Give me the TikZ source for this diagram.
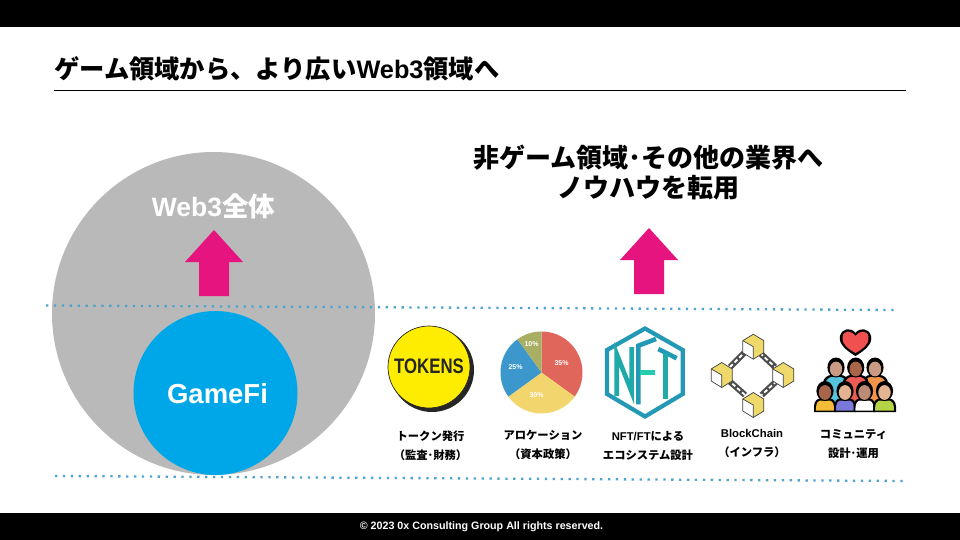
\documentclass[tikz,border=0pt]{standalone}
\usepackage{fontspec}
\setmainfont{Liberation Sans}
\newfontfamily\cjk{Noto Sans CJK JP}
\usetikzlibrary{shapes.geometric}
\definecolor{pinkarrow}{HTML}{E6147F}
\definecolor{gamefi}{HTML}{00A7E8}
\definecolor{bigc}{HTML}{B9B9B9}
\definecolor{dots}{HTML}{4FA3CF}
\definecolor{nftc}{HTML}{2399B5}
\definecolor{nftn}{HTML}{1FA9A8}
\definecolor{nftg}{HTML}{25CDB0}
\definecolor{cube}{HTML}{EFD96B}
\definecolor{piered}{HTML}{E0655A}
\definecolor{pieyel}{HTML}{F3D56E}
\definecolor{pieblu}{HTML}{3C98CC}
\definecolor{pieoli}{HTML}{A8AE62}
\definecolor{heartc}{HTML}{F0504F}
\tikzset{
  x=1pt,y=-1pt,
  capt/.style={font=\cjk\bfseries\fontsize{11.3}{19}\selectfont,align=center,text=black,inner sep=0pt},
  big/.style={font=\cjk\bfseries\fontsize{26}{30}\selectfont,align=center,inner sep=0pt},
  dotline/.style={dots,line width=2.3pt,line cap=butt,dash pattern=on 2.3pt off 5.6pt},
  uparrow/.style={fill=pinkarrow,draw=none},
  nftl/.style={line width=4.6pt,line cap=butt,line join=miter},
  chainout/.style={draw=black!70,line width=6pt},
  chainin/.style={draw=white,line width=1.8pt,dash pattern=on 4pt off 2.5pt},
  cubeedge/.style={draw=black!75,line width=.7pt,line join=round},
  pct/.style={text=white,font=\bfseries\fontsize{7}{8}\selectfont,inner sep=0pt}
}
\newcommand{\mkarrow}[2]{% x centre, tip y
  \fill[uparrow] (#1,#2) -- (#1+29,#2+32) -- (#1+15,#2+32) -- (#1+15,#2+66) -- (#1-15,#2+66) -- (#1-15,#2+32) -- (#1-29,#2+32) -- cycle;}
\newcommand{\mkcube}[2]{%
  \begin{scope}[shift={(#1,#2)}]
    \fill[white] (0,-12.5) -- (10.5,-6) -- (10.5,6) -- (0,12.5) -- (-10.5,6) -- (-10.5,-6) -- cycle;
    \fill[cube] (-10.5,-6) -- (0,-12.5) -- (10.5,-6) -- (10.5,6) -- (0,12.5) -- (0,0) -- cycle;
    \draw[cubeedge] (0,-12.5) -- (10.5,-6) -- (10.5,6) -- (0,12.5) -- (-10.5,6) -- (-10.5,-6) -- cycle;
    \draw[cubeedge] (-10.5,-6) -- (0,0) -- (0,12.5);
  \end{scope}}
% x, head y, half width of body, body bottom, shirt colour, skin colour
\newcommand{\mkperson}[6]{%
  \begin{scope}[shift={(#1,#2)}]
    \fill[black] (-#3,#4) -- (-#3,15) .. controls (-#3,10) and (-8,7) .. (-5,7) -- (5,7) .. controls (8,7) and (#3,10) .. (#3,15) -- (#3,#4) -- cycle;
    \fill[#5,shift={(0,1.5)},xscale=.82] (-#3,#4-3) -- (-#3,15) .. controls (-#3,10) and (-8,7.5) .. (-5,7.5) -- (5,7.5) .. controls (8,7.5) and (#3,10) .. (#3,15) -- (#3,#4-3) -- cycle;
    \fill[black] (0,-.5) ellipse (8.6 and 10);
    \fill[#6] (0,1) ellipse (6.2 and 7.4);
  \end{scope}}
\definecolor{sa}{HTML}{CB9A84}
\definecolor{sb}{HTML}{A8654A}
\definecolor{sc}{HTML}{E3B392}
\definecolor{sd}{HTML}{BC8B76}
\begin{document}
\begin{tikzpicture}
\useasboundingbox (0,0) rectangle (960,540);
\fill[white] (0,0) rectangle (960,540);
\fill[black] (0,0) rectangle (960,27);
\fill[black] (0,513) rectangle (960,540);
\node[anchor=center,inner sep=0pt,text=white] (footer) at (481.5,526.5) {\fontsize{10.7}{12}\selectfont\bfseries © 2023 0x Consulting Group All rights reserved.};
% title
\node[anchor=west,inner sep=0pt,text=black] (title) at (54,69) {\cjk\bfseries\fontsize{25.3}{30}\selectfont ゲーム領域から、より広い{\rmfamily\bfseries Web3}領域へ};
\draw[black,line width=.8pt] (54,90) -- (906,90);
% circles
\fill[bigc] (213.5,313.5) circle (161.5);
\fill[gamefi] (215.5,393) circle (82);
\node[inner sep=0pt,text=white] (gf) at (217.5,393.5) {\fontsize{27.5}{30}\selectfont\bfseries GameFi};
\node[inner sep=0pt,text=white] (w3) at (213.5,206.5) {\fontsize{26.5}{30}\selectfont\bfseries Web3{\cjk 全体}};
\mkarrow{214}{230}
\mkarrow{649}{228}
\node[big,text=black] (head) at (648.5,173) {非ゲーム領域･その他の業界へ\\ノウハウを転用};
% dotted lines
\draw[dotline] (46,305.5) -- (897,310);
\draw[dotline] (55,476) -- (905,481);
% tokens
\fill[black!85] (432,370) circle (42);
\fill[yellow!95!orange] (429,367) circle (41);
\draw[black!85,line width=.7pt] (429,367) circle (41);
\node[inner sep=0pt,text=black!85,xscale=.8] (tok) at (429,366.5) {\fontsize{21}{22}\selectfont\bfseries TOKENS};
% pie
\begin{scope}[shift={(541.5,372.5)}]
\fill[piered] (0,0) -- (0,-41) arc[start angle=90,end angle=-36,radius=41pt] -- cycle;
\fill[pieyel] (0,0) -- (33.2,24.1) arc[start angle=-36,end angle=-144,radius=41pt] -- cycle;
\fill[pieblu] (0,0) -- (-33.2,24.1) arc[start angle=-144,end angle=-234,radius=41pt] -- cycle;
\fill[pieoli] (0,0) -- (-24.1,-33.2) arc[start angle=-234,end angle=-270,radius=41pt] -- cycle;
\node[pct] (p1) at (20,-9) {35\%};
\node[pct] (p2) at (-5,23) {30\%};
\node[pct] (p3) at (-26,-5) {25\%};
\node[pct] (p4) at (-10,-28) {10\%};
\end{scope}
% NFT
\draw[nftc,line width=4.2pt,line join=miter] (645,328.5) -- (682.7,350) -- (682.7,394) -- (645,416.5) -- (607,394) -- (607,350) -- cycle;
\draw[nftn,nftl] (616.7,396) -- (616.7,354) -- (631.7,392) -- (631.7,347);
\draw[nftc,nftl] (638.3,404.3) -- (638.3,345.7) -- (656,339);
\draw[nftg,nftl] (640,372.7) -- (655,372.7);
\draw[nftc,nftl] (658.3,349) -- (676.7,358.3);
\draw[nftn,nftl] (665.7,353) -- (665.7,399);
% blockchain
\foreach \a/\b/\c/\d in {730/367/744/353,760/353/775/367,776.7/381/761.7/395,745/395/730/381.7}{
  \draw[chainout] (\a,\b) -- (\c,\d);
  \draw[chainin] (\a,\b) -- (\c,\d);
}
\mkcube{721.7}{375}
\mkcube{753.3}{346.7}
\mkcube{783.3}{375}
\mkcube{753.3}{405}
% community
\fill[black] (855.5,356) .. controls (847,351) and (838,344) .. (840,336) .. controls (842,328) and (851,327) .. (855.5,333) .. controls (860,327) and (869,328) .. (871,336) .. controls (873,344) and (864,351) .. (855.5,356) -- cycle;
\fill[heartc] (855.5,353) .. controls (848,349) and (841,343) .. (842.5,336.5) .. controls (844,330) and (851,330) .. (855.5,336) .. controls (860,330) and (867,330) .. (868.5,336.5) .. controls (870,343) and (863,349) .. (855.5,353) -- cycle;
\definecolor{s1}{HTML}{56C5DC}\definecolor{s2}{HTML}{EE5A55}\definecolor{s3}{HTML}{F4934A}
\definecolor{s4}{HTML}{F5BC3A}\definecolor{s5}{HTML}{7A78D8}\definecolor{s6}{HTML}{FFFFFF}\definecolor{s7}{HTML}{B4D347}
\mkperson{836}{368}{13}{36}{s1}{sa}
\mkperson{875}{368}{13}{36}{s3}{sa}
\mkperson{855.7}{368}{13}{36}{s2}{sb}
\mkperson{825}{391.5}{11}{20.5}{s4}{sb}
\mkperson{845}{391.5}{11}{20.5}{s5}{sc}
\mkperson{864.5}{391.5}{11}{20.5}{s6}{sd}
\mkperson{884.5}{391.5}{11.5}{20.5}{s7}{sc}
% captions
\node[capt] (c1) at (430.5,445.5) {トークン発行\\（監査･財務）};
\node[capt] (c2) at (543,445) {アロケーション\\（資本政策）};
\node[capt] (c3) at (648,446) {{\rmfamily NFT/FT}による\\エコシステム設計};
\node[capt] (c4) at (752,443) {{\rmfamily BlockChain}\\（インフラ）};
\node[capt] (c5) at (853.5,444) {コミュニティ\\設計･運用};
\end{tikzpicture}
\end{document}
